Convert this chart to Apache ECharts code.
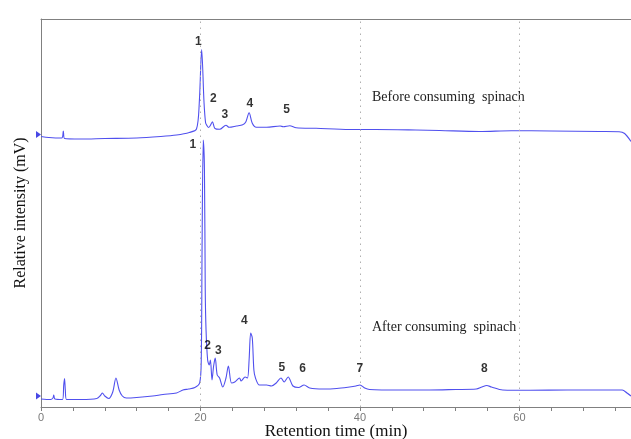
<!DOCTYPE html>
<html>
<head>
<meta charset="utf-8">
<script src="https://cdn.jsdelivr.net/npm/echarts@6/dist/echarts.min.js"></script>
<style>
html,body{margin:0;padding:0;background:#fff;}
#chart{width:631px;height:439px;}
</style>
</head>
<body>
<div id="chart"></div>
<script>
// ---- Data ----
// Retention time (min) and relative intensity for the "after consuming spinach" trace
const afterTime = [0,1.2,1.5,1.6,1.75,2.7,2.85,2.95,3.05,3.2,5,7.0,7.5,7.7,8.0,8.5,9.0,9.4,9.8,10.2,10.7,12,14,15.3,17,17.8,18.5,19.3,19.9,20.1,20.2,20.35,20.5,20.6,20.7,20.9,21.1,21.25,21.45,21.65,21.85,22.1,22.4,22.8,23.2,23.5,23.9,24.3,24.9,25.1,25.6,25.9,26.1,26.3,26.5,26.7,26.9,27.4,28.3,28.9,29.5,30.1,30.5,31.0,31.6,32.3,33.0,33.7,35.4,37.1,38.7,39.5,40.0,40.6,41.2,45,48.7,52,54.6,55.3,55.9,56.5,57.9,61.3,66,70,72.9,73.5,74];
const afterSignal = [8,7.5,9,12,8,7.5,22,28.5,17,7.5,7.5,8.5,12,14,11,8.5,15,29,17,11,9,9.5,11,12.5,14,17,18,19.5,24,47,157,267,237,117,77,47,42,47,27,41,49,32,29,20,29,41,24,25,29,26,30,29,47,74,69,37,29,22,22,21,24,29,25,30,21,19.5,22,19,18,18.5,20,21,22,19,17.5,17,17,17.5,18,20,21.5,20,17,16.7,17,17,17,14,11];

// "Before consuming spinach" trace
const beforeTime = [0,1.0,2.6,2.8,2.95,5,8,12,15,17,18.6,19.5,19.85,20.15,20.45,20.65,20.85,21.0,21.2,21.5,21.8,22.4,23.2,23.6,24.5,25.3,25.7,26.1,26.5,27.0,28.3,30,30.4,31.2,32.0,34.5,38.7,42,47,50,55,59,64,70,72.5,73.2,74];
const beforeSignal = [6.5,5.5,5,12,4.5,4,4.5,5,6.5,8,10.5,14,40,93.5,40,20,17,15.5,17,21.3,14.7,13.7,17.7,15.7,17,18.3,21.3,30.3,19.7,15.7,15.7,17,16.3,17.3,15.3,14.7,13.5,13.5,13,12.5,11.5,12.3,12,11.5,11.3,9.5,1.5];

// Vertical offset of the "before" trace above the "after" trace
const BEFORE_OFFSET = 264;

// Peak numbering labels (time, intensity)
const beforePeakNames = ['1','2','3','4','5'];
const beforePeakTime  = [19.74,21.6,23.05,26.2,30.8];
const beforePeakValue = [101.3,44,28.7,39.7,33.7];
const afterPeakNames = ['1','2','3','4','5','6','7','8'];
const afterPeakTime  = [19.03,20.9,22.25,25.5,30.2,32.8,40.0,55.6];
const afterPeakValue = [262,61,56.3,86.3,39.7,38.3,38,38];

// Baseline markers (triangles on the y axis)
const beforeBaselineMark = 8.5;
const afterBaselineMark = 11;

// Axis
const X_MIN = 0, X_MAX = 74, X_TICK = 4, X_LABEL_STEP = 20;
const Y_MIN = 0, Y_MAX = 388;
const gridLinesAt = [20, 40, 60];

const xAxisTitle = 'Retention time (min)';
const yAxisTitle = 'Relative intensity (mV)';
const beforeCaption = 'Before consuming  spinach';
const afterCaption = 'After consuming  spinach';

// ---- Build ----
const LINE_COLOR = '#5050ee';
const afterData = afterTime.map((t, i) => [t, afterSignal[i]]);
const beforeData = beforeTime.map((t, i) => [t, beforeSignal[i] + BEFORE_OFFSET]);
const peakLabels = beforePeakNames.map((n, i) => ({name: n, value: [beforePeakTime[i], beforePeakValue[i] + BEFORE_OFFSET]}))
  .concat(afterPeakNames.map((n, i) => ({name: n, value: [afterPeakTime[i], afterPeakValue[i]]})));

const chart = echarts.init(document.getElementById('chart'), null, {renderer: 'canvas'});
chart.setOption({
  animation: false,
  backgroundColor: '#ffffff',
  grid: {left: 41, right: 0, top: 19, bottom: 32, containLabel: false, outerBoundsMode: 'none'},
  xAxis: [{
    type: 'value', min: X_MIN, max: X_MAX, interval: X_TICK,
    position: 'bottom',
    axisLine: {show: true, onZero: false, lineStyle: {color: '#808080', width: 1}},
    axisTick: {show: true, length: 4, inside: false, lineStyle: {color: '#808080'}},
    axisLabel: {
      color: '#7a7a7a', fontSize: 11, fontFamily: 'Liberation Sans', margin: 5,
      showMaxLabel: false,
      formatter: v => (v % X_LABEL_STEP === 0 ? String(v) : '')
    },
    splitLine: {show: false},
    name: xAxisTitle, nameLocation: 'middle', nameGap: 16, nameMoveOverlap: false,
    nameTextStyle: {color: '#111', fontSize: 17, fontFamily: 'Liberation Serif'}
  }, {
    type: 'value', min: X_MIN, max: X_MAX, position: 'top',
    axisLine: {show: true, onZero: false, lineStyle: {color: '#808080', width: 1}},
    axisTick: {show: false}, axisLabel: {show: false}, splitLine: {show: false}
  }],
  yAxis: {
    type: 'value', min: Y_MIN, max: Y_MAX,
    axisLine: {show: true, onZero: false, lineStyle: {color: '#808080', width: 1}},
    axisTick: {show: false}, axisLabel: {show: false}, splitLine: {show: false},
    name: yAxisTitle, nameLocation: 'middle', nameGap: 12, nameMoveOverlap: false,
    nameTextStyle: {color: '#111', fontSize: 16, fontFamily: 'Liberation Serif'}
  },
  series: [{
    type: 'line', name: 'before', data: beforeData, showSymbol: false, symbol: 'none',
    lineStyle: {color: LINE_COLOR, width: 1.1}, smooth: 0.3, z: 3,
    markLine: {
      silent: true, symbol: 'none', label: {show: false},
      lineStyle: {color: '#b0b0b0', type: [1.5, 4.5], width: 1},
      data: gridLinesAt.map(x => ({xAxis: x}))
    }
  }, {
    type: 'line', name: 'after', data: afterData, showSymbol: false, symbol: 'none',
    lineStyle: {color: LINE_COLOR, width: 1.1}, smooth: 0.3, z: 3
  }, {
    type: 'scatter', name: 'peaks', data: peakLabels, symbolSize: 0, clip: false, z: 5,
    label: {show: true, position: 'inside', formatter: p => p.name,
      color: '#000', fontSize: 12, fontWeight: 'bold', fontFamily: 'Liberation Sans'}
  }, {
    type: 'scatter', name: 'markers', clip: false, z: 6,
    data: [[X_MIN, beforeBaselineMark + BEFORE_OFFSET], [X_MIN, afterBaselineMark]],
    symbol: 'path://M0,0 L1,0.5 L0,1 Z', symbolSize: [5, 7], symbolOffset: [-2.5, 0],
    itemStyle: {color: '#1a1adf'}
  }],
  graphic: [{
    type: 'text', left: 372, top: 90,
    style: {text: beforeCaption, fill: '#222', font: '14px "Liberation Serif"'}
  }, {
    type: 'text', left: 372, top: 320,
    style: {text: afterCaption, fill: '#222', font: '14px "Liberation Serif"'}
  }]
});
</script>
</body>
</html>
